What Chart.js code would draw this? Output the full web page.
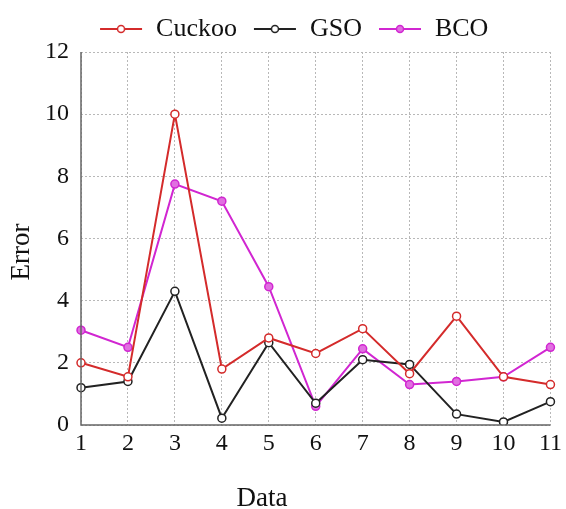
<!DOCTYPE html>
<html>
<head>
<meta charset="utf-8">
<script src="https://cdn.jsdelivr.net/npm/chart.js@4/dist/chart.umd.min.js"></script>
<style>
  html, body { margin: 0; padding: 0; background: #fff; }
  #wrap { width: 566px; height: 509px; }
</style>
</head>
<body>
<div id="wrap"><canvas id="errChart" width="566" height="509"></canvas></div>
<script>
const dataLabels = ['1', '2', '3', '4', '5', '6', '7', '8', '9', '10', '11'];
const cuckooErr = [2.0, 1.55, 10.0, 1.8, 2.8, 2.3, 3.1, 1.65, 3.5, 1.55, 1.3];
const gsoErr = [1.2, 1.4, 4.3, 0.22, 2.65, 0.7, 2.1, 1.95, 0.35, 0.1, 0.75];
const bcoErr = [3.05, 2.5, 7.75, 7.2, 4.45, 0.6, 2.45, 1.3, 1.4, 1.55, 2.5];
const yTicks = [0, 2, 4, 6, 8, 10, 12];

const seriesInfo = [
    { label: 'Cuckoo', values: cuckooErr, color: '#d42b2b', fillPt: '#ffffff' },
    { label: 'GSO', values: gsoErr, color: '#222222', fillPt: '#ffffff' },
    { label: 'BCO', values: bcoErr, color: '#d126d1', fillPt: '#e070e0' }
];

const serif = "'Liberation Serif', 'DejaVu Serif', serif";

// little line+circle sample for the legend
function legendSample(color, fillPt) {
    const c = document.createElement('canvas');
    c.width = 44; c.height = 12;
    const g = c.getContext('2d');
    g.strokeStyle = color; g.lineWidth = 2;
    g.beginPath(); g.moveTo(1, 6); g.lineTo(43, 6); g.stroke();
    g.fillStyle = fillPt; g.lineWidth = 1.5;
    g.beginPath(); g.arc(22, 6, 3.5, 0, Math.PI * 2); g.fill(); g.stroke();
    return c;
}

// axis titles placed where the original has them
const axisTitles = {
    id: 'axisTitles',
    afterDraw(chart) {
        const ctx = chart.ctx;
        const a = chart.chartArea;
        ctx.save();
        ctx.fillStyle = '#111';
        ctx.font = '27px ' + serif;
        ctx.textAlign = 'center';
        ctx.textBaseline = 'middle';
        ctx.fillText('Data', a.left + 181, a.bottom + 74);
        ctx.translate(22, a.top + 200);
        ctx.rotate(-Math.PI / 2);
        ctx.fillText('Error', 0, 0);
        ctx.restore();
    }
};

// solid left/bottom axis lines
const axisLines = {
    id: 'axisLines',
    afterDatasetsDraw(chart) {
        const ctx = chart.ctx;
        const a = chart.chartArea;
        ctx.save();
        ctx.strokeStyle = '#666';
        ctx.lineWidth = 1.5;
        ctx.setLineDash([]);
        ctx.beginPath();
        ctx.moveTo(a.left, a.top);
        ctx.lineTo(a.left, a.bottom);
        ctx.lineTo(a.right, a.bottom);
        ctx.stroke();
        ctx.restore();
    }
};

// legend band is 52px tall and sits a bit left of the plot centre
const legendBox = {
    id: 'legendBox',
    beforeInit(chart) {
        const fit = chart.legend.fit;
        chart.legend.fit = function () {
            fit.bind(chart.legend)();
            this.height = 52;
        };
    },
    afterLayout(chart) {
        chart.legend.left -= 22;
        chart.legend.right -= 22;
    }
};

const ctx = document.getElementById('errChart').getContext('2d');
const chartConfig = {
    type: 'line',
    data: {
        labels: dataLabels,
        datasets: []
    },
    options: {
        responsive: false,
        animation: false,
        layout: { padding: { left: 0, right: 12, top: 0, bottom: 0 } },
        scales: {
            x: {
                ticks: {
                    color: '#111',
                    padding: 4,
                    maxRotation: 0,
                    autoSkip: false,
                    font: { family: serif, size: 24 }
                },
                grid: { color: '#b8b8b8', lineWidth: 1, drawTicks: false },
                border: { display: false, dash: [2, 2] },
                afterFit(scale) { scale.height = 84; }
            },
            y: {
                min: 0,
                max: 12,
                afterBuildTicks(scale) {
                    scale.ticks = yTicks.map(v => ({ value: v }));
                },
                ticks: {
                    color: '#111',
                    padding: 12,
                    font: { family: serif, size: 24 }
                },
                grid: { color: '#b8b8b8', lineWidth: 1, drawTicks: false },
                border: { display: false, dash: [2, 2] },
                afterFit(scale) { scale.width = 81; }
            }
        },
        plugins: {
            legend: {
                position: 'top',
                fullSize: false,
                labels: {
                    usePointStyle: true,
                    pointStyleWidth: 44,
                    padding: 16,
                    color: '#111',
                    font: { family: serif, size: 26 },
                    generateLabels(chart) {
                        return chart.data.datasets.map((ds, i) => ({
                            text: ds.label,
                            fillStyle: ds.borderColor,
                            strokeStyle: ds.borderColor,
                            fontColor: '#111',
                            pointStyle: legendSample(seriesInfo[i].color, seriesInfo[i].fillPt),
                            hidden: false,
                            datasetIndex: i
                        }));
                    }
                }
            },
            tooltip: { enabled: false }
        }
    },
    plugins: [legendBox, axisLines, axisTitles]
};

seriesInfo.forEach(s => {
    chartConfig.data.datasets.push({
        label: s.label,
        data: s.values,
        borderColor: s.color,
        backgroundColor: s.color,
        pointBackgroundColor: s.fillPt,
        pointBorderColor: s.color,
        pointBorderWidth: 1.5,
        pointRadius: 4,
        borderWidth: 2,
        tension: 0,
        fill: false
    });
});

const errChart = new Chart(ctx, chartConfig);
</script>
</body>
</html>
